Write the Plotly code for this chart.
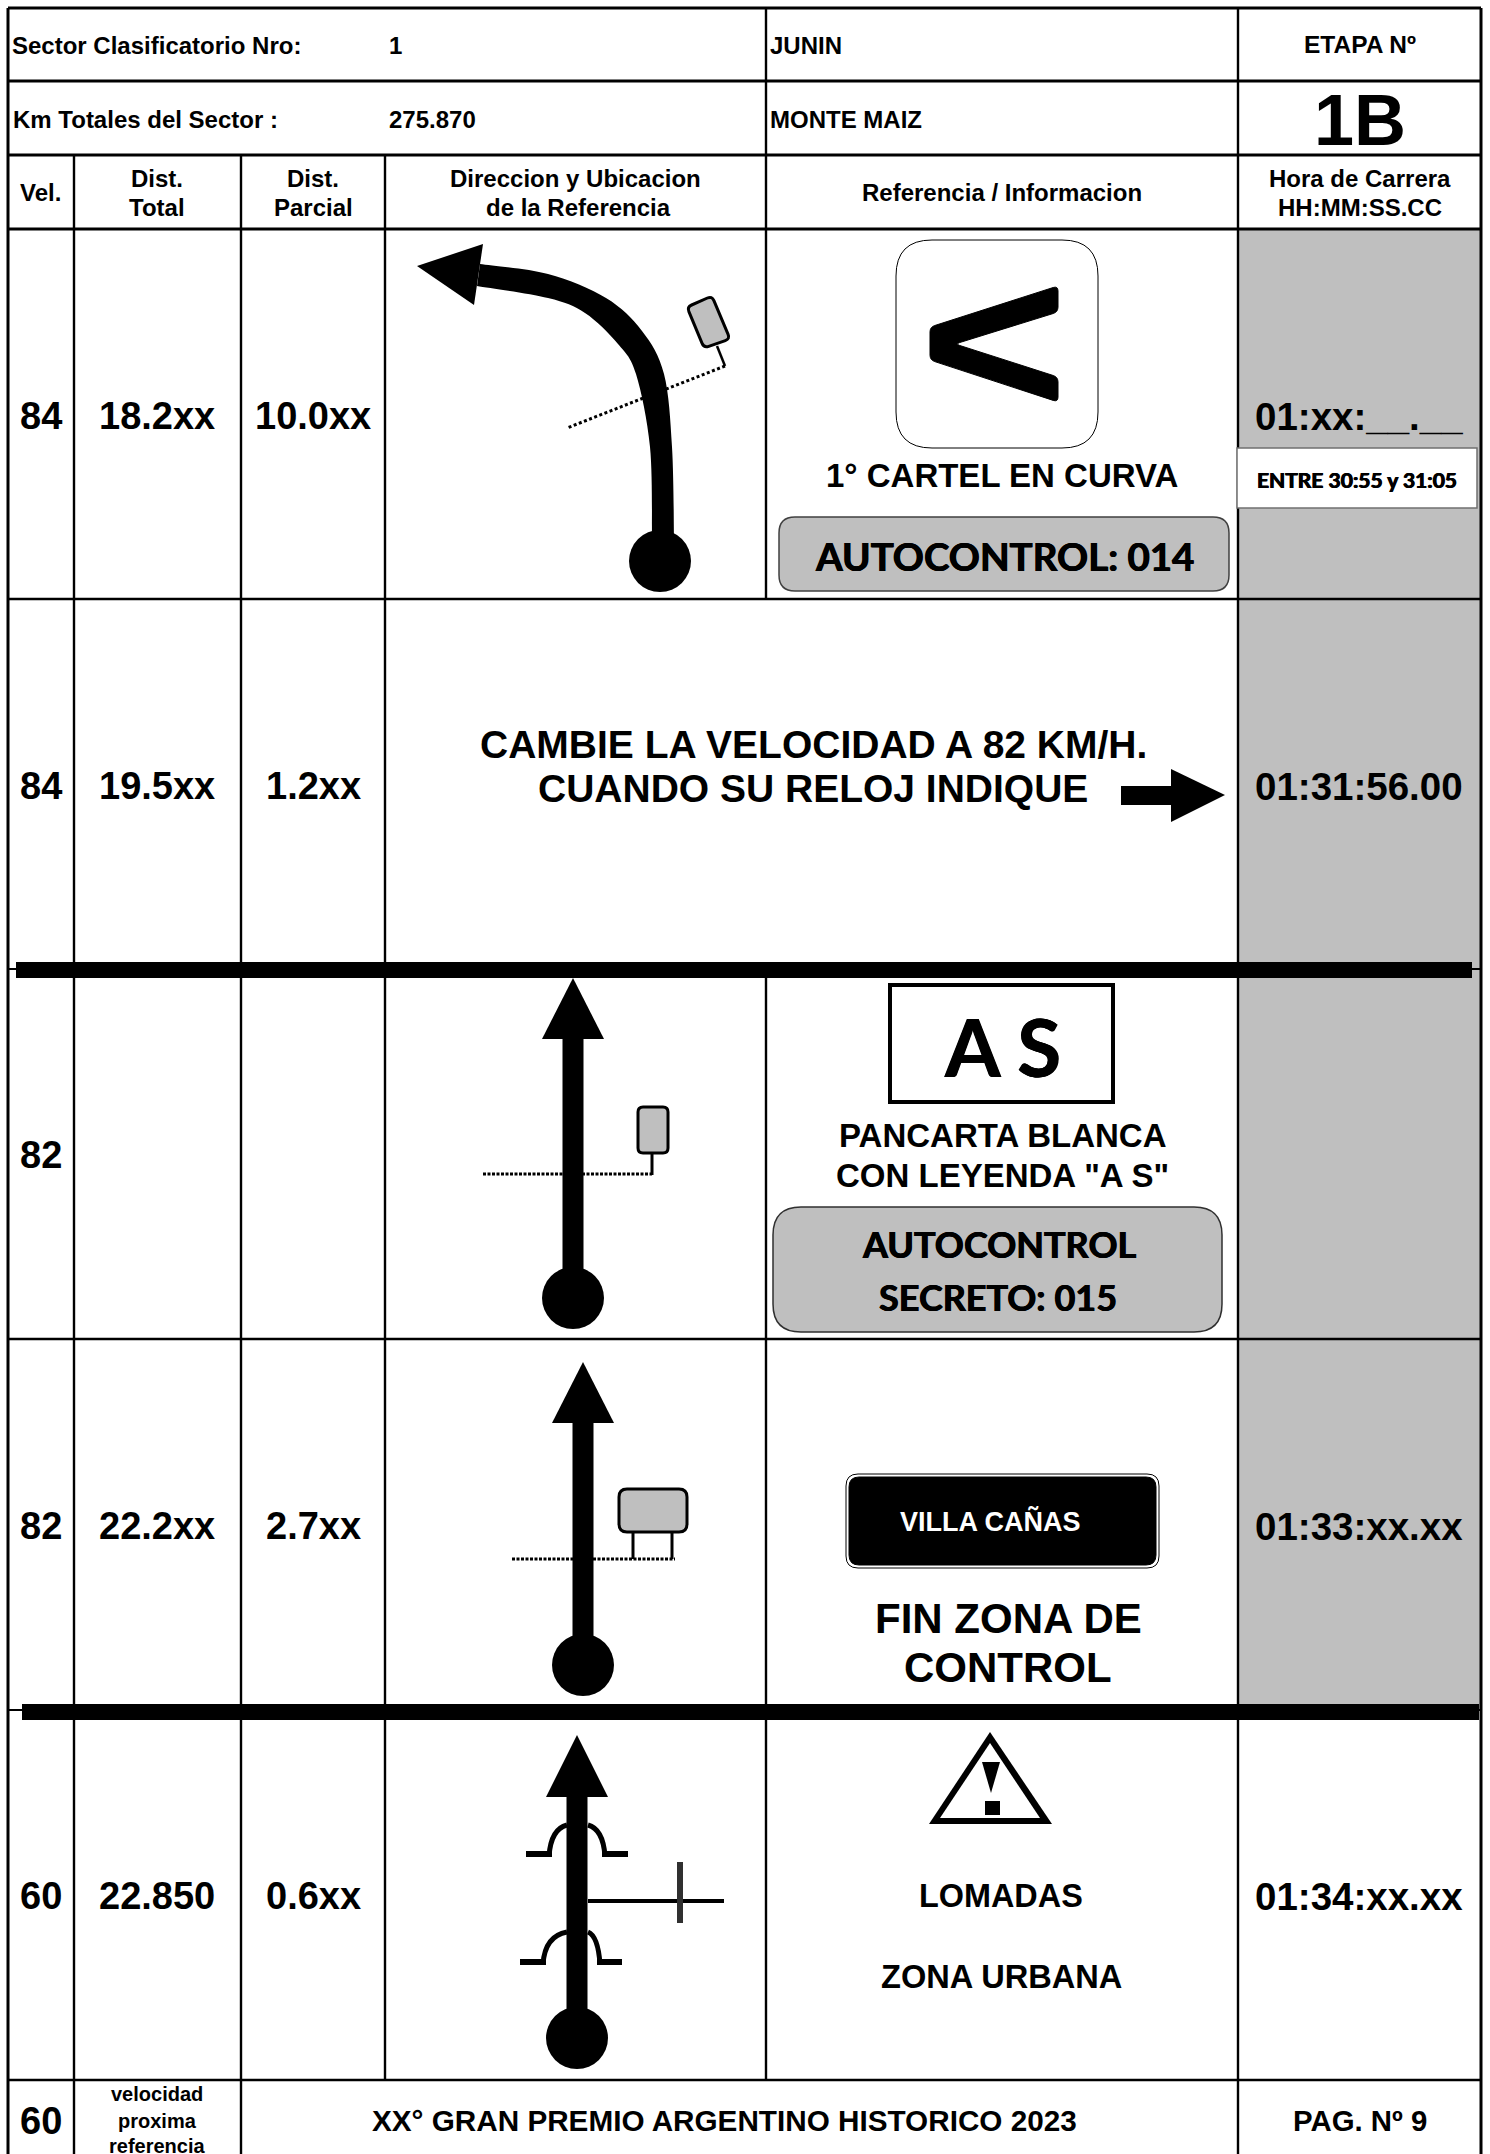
import plotly.graph_objects as go

# ---------- chart content ----------
SPEEDS = ["84", "84", "82", "82", "60"]
DIST_TOTAL = ["18.2xx", "19.5xx", "", "22.2xx", "22.850"]
DIST_PARTIAL = ["10.0xx", "1.2xx", "", "2.7xx", "0.6xx"]
RACE_TIMES = ["01:xx:__.__", "01:31:56.00", "", "01:33:xx.xx", "01:34:xx.xx"]
HEADER_COLUMNS = [["Vel."], ["Dist.", "Total"], ["Dist.", "Parcial"],
                  ["Direccion y Ubicacion", "de la Referencia"],
                  ["Referencia / Informacion"], ["Hora de Carrera", "HH:MM:SS.CC"]]
SECTOR_LABELS = ["Sector Clasificatorio Nro:", "Km Totales del Sector :"]
SECTOR_VALUES = ["1", "275.870"]
TOWNS = ["JUNIN", "MONTE MAIZ"]
STAGE_LABEL = "ETAPA Nº"
STAGE = "1B"
NEXT_SPEED = "60"
NEXT_SPEED_NOTE = ["velocidad", "proxima", "referencia"]
FOOTER_TITLE = "XX° GRAN PREMIO ARGENTINO HISTORICO 2023"
FOOTER_PAGE = "PAG. Nº 9"

# ---------- page geometry ----------
W, H = 1490, 2154
L, R, T = 8, 1481, 8
C1, C2, C3, C4, C5 = 74, 241, 385, 766, 1238
RH = [81, 155, 229, 599, 969, 1339, 1710, 2080]
ROW_Y = [416, 786, 1155, 1526, 1896]
GRAY = "#BFBFBF"
SANS = "Liberation Sans"
CAL = "Lato"
HEAVY = "0.5px 0 0 black, -0.5px 0 0 black"

shapes, notes = [], []


def line(x0, y0, x1, y1, w=2, dash=None, color="black"):
    ln = dict(color=color, width=w)
    if dash:
        ln["dash"] = dash
    shapes.append(dict(type="line", xref="x", yref="y", x0=x0, y0=y0, x1=x1, y1=y1, line=ln))


def rect(x0, y0, x1, y1, fill="black", lc=None, lw=0):
    shapes.append(dict(type="rect", xref="x", yref="y", x0=x0, y0=y0, x1=x1, y1=y1, fillcolor=fill,
                       line=dict(color=lc or fill, width=lw)))


def disc(cx, cy, r=31):
    shapes.append(dict(type="circle", xref="x", yref="y", x0=cx - r, x1=cx + r, y0=cy - r, y1=cy + r,
                       fillcolor="black", line=dict(width=0)))


def poly(pts, fill="black", lc=None, lw=0):
    d = "M " + " L ".join(f"{x} {y}" for x, y in pts) + " Z"
    shapes.append(dict(type="path", xref="x", yref="y", path=d, fillcolor=fill,
                       line=dict(color=lc or fill, width=lw)))


def round_poly(pts, r, fill="black", lc=None, lw=0):
    """Closed polygon whose corners are eased by quadratic segments of reach r."""
    n = len(pts)
    d = ""
    for i in range(n):
        p = pts[i]
        a = pts[i - 1]
        b = pts[(i + 1) % n]
        la = ((a[0] - p[0]) ** 2 + (a[1] - p[1]) ** 2) ** 0.5
        lb = ((b[0] - p[0]) ** 2 + (b[1] - p[1]) ** 2) ** 0.5
        s = (p[0] + (a[0] - p[0]) * r / la, p[1] + (a[1] - p[1]) * r / la)
        e = (p[0] + (b[0] - p[0]) * r / lb, p[1] + (b[1] - p[1]) * r / lb)
        d += ("M " if i == 0 else " L ") + f"{s[0]:.1f} {s[1]:.1f} Q {p[0]} {p[1]} {e[0]:.1f} {e[1]:.1f}"
    shapes.append(dict(type="path", xref="x", yref="y", path=d + " Z", fillcolor=fill,
                       line=dict(color=lc or fill, width=lw)))


def rrect(x0, y0, x1, y1, r, fill="white", lc="black", lw=1):
    round_poly([(x0, y0), (x1, y0), (x1, y1), (x0, y1)], r, fill, lc, lw)


def smooth(pts):
    """Catmull-Rom segments through the hand-read outline points, as SVG path text."""
    out = ""
    for i in range(len(pts) - 1):
        p0 = pts[max(i - 1, 0)]
        p1 = pts[i]
        p2 = pts[i + 1]
        p3 = pts[min(i + 2, len(pts) - 1)]
        c1 = (p1[0] + (p2[0] - p0[0]) / 6, p1[1] + (p2[1] - p0[1]) / 6)
        c2 = (p2[0] - (p3[0] - p1[0]) / 6, p2[1] - (p3[1] - p1[1]) / 6)
        out += f" C {c1[0]:.1f} {c1[1]:.1f} {c2[0]:.1f} {c2[1]:.1f} {p2[0]} {p2[1]}"
    return out


def text(x, y, s, size=24, font=SANS, anchor="center", color="black"):
    f = dict(family=font, size=size, color=color)
    if font == CAL:
        f["shadow"] = HEAVY
    notes.append(dict(x=x, y=y, xref="x", yref="y", text=f"<b>{s}</b>", showarrow=False,
                      xanchor=anchor, yanchor="middle", align=anchor, font=f))


def straight_arrow(cx, tip, base, stem_half, circle_y):
    rect(cx - stem_half, base - 1, cx + stem_half, circle_y - 10)
    poly([(cx, tip), (cx - 31, base), (cx + 31, base)])
    disc(cx, circle_y)


# ---------- gray time column ----------
rect(C5, RH[2], R, RH[6], GRAY)

# ---------- grid ----------
for y in RH[:3]:
    line(L, y, R, y, 3)
line(L, RH[3], R, RH[3], 2.4)
line(L, RH[5], R, RH[5], 2.4)
line(L, RH[7], R, RH[7], 2.6)
for x in (C1, C2):
    line(x, RH[1], x, H, 2.4)
line(C3, RH[1], C3, RH[7], 2.4)
line(C4, T, C4, RH[3], 2.4)
line(C4, RH[4], C4, RH[7], 2.4)
line(C5, T, C5, H, 2.4)
line(L, T, R, T, 3)
line(L, T, L, H, 3)
line(R, T, R, H, 3)

# thick control-zone rules
line(L, 969, R, 969, 2)
rect(16, 962, 1472, 978)
line(L, 1710, R, 1710, 2)
rect(22, 1704, 1479, 1720)

# ---------- header text ----------
for y, x0, lab, val, town in zip((45, 119), (10, 11), SECTOR_LABELS, SECTOR_VALUES, TOWNS):
    text(x0, y, lab, 24, anchor="left")
    text(387, y, val, 24, anchor="left")
    text(768, y, town, 24, anchor="left")
text(1360, 44, STAGE_LABEL, 24.5)
text(1360, 120, STAGE, 72)
header_x = [(40,), (157, 157), (313, 313), (575, 578), (1002,), (1360, 1360)]
for xs, lines in zip(header_x, HEADER_COLUMNS):
    ys = [192] if len(lines) == 1 else [178, 207]
    for cx, y, s in zip(xs, ys, lines):
        text(cx, y, s, 24)

# ---------- row values ----------
for y, sp, dt, dp, tm in zip(ROW_Y, SPEEDS, DIST_TOTAL, DIST_PARTIAL, RACE_TIMES):
    text(41, y, sp, 38)
    if dt:
        text(157, y, dt, 38)
        text(313, y, dp, 38)
    if tm:
        text(1359, y, tm, 38.5)

# ---------- row 1 ----------
outer = [(480, 264), (548, 274), (606, 298), (642, 331), (664, 374), (672, 447), (674, 537)]
inner = [(652, 537), (650, 447), (636, 374), (618, 344), (585, 313), (548, 298), (477, 286)]
d = f"M {outer[0][0]} {outer[0][1]}" + smooth(outer) + f" L {inner[0][0]} {inner[0][1]}" + smooth(inner) + " Z"
shapes.append(dict(type="path", xref="x", yref="y", path=d, fillcolor="black", line=dict(width=0)))
poly([(417, 266), (483, 244), (474, 305)])
disc(660, 561)
line(725, 366, 567, 428, 3, "3px,2.5px")
line(717, 346, 725, 366, 2.5)
round_poly([(687, 307), (712, 296), (730, 339), (704, 348)], 5, GRAY, "black", 3)
rrect(896, 240, 1098, 448, 36)
round_poly([(1058, 286), (1058, 312), (955, 344), (1058, 377), (1058, 402), (930, 360), (930, 327)],
           5, "black", "black", 1)
text(1002, 475, "1° CARTEL EN CURVA", 33)
rrect(779, 517, 1229, 591, 16, GRAY, "#404040", 1.5)
text(1004, 556, "AUTOCONTROL: 014", 38.5, CAL)
rect(1237, 448, 1477, 508, "white", "#707070", 1.5)
text(1357, 479, "ENTRE 30:55 y 31:05", 21, CAL)

# ---------- row 2 ----------
text(813, 744, "CAMBIE LA VELOCIDAD A 82 KM/H.", 39)
text(813, 788, "CUANDO SU RELOJ INDIQUE", 39)
rect(1121, 786, 1172, 805)
poly([(1171, 769), (1171, 822), (1225, 795)])

# ---------- row 3 ----------
straight_arrow(573, 978, 1039, 10.5, 1298)
line(483, 1174, 652, 1174, 3, "3px,1.5px")
line(652, 1153, 652, 1175, 3)
rrect(638, 1107, 668, 1153, 5, GRAY, "black", 3)
rect(890, 985, 1113, 1102, "white", "black", 4)
text(1002, 1046, "A S", 80, CAL)
text(1003, 1135, "PANCARTA BLANCA", 33)
text(1002, 1175, 'CON LEYENDA "A S"', 33)
rrect(773, 1207, 1222, 1332, 28, GRAY, "#303030", 1.5)
text(999, 1244, "AUTOCONTROL", 36, CAL)
text(998, 1297, "SECRETO: 015", 36, CAL)

# ---------- row 4 ----------
straight_arrow(583, 1362, 1423, 10.5, 1665)
line(512, 1559, 675, 1559, 3, "3px,1.5px")
line(633, 1532, 633, 1559, 3)
line(672, 1532, 672, 1559, 3)
rrect(619, 1489, 687, 1532, 8, GRAY, "black", 3)
rrect(846, 1474, 1159, 1568, 12, "white", "black", 1)
rrect(849, 1477, 1156, 1565, 10, "black", "black", 1)
text(990, 1521, "VILLA CAÑAS", 27, color="white")
text(1008, 1618, "FIN ZONA DE", 42)
text(1008, 1667, "CONTROL", 42)

# ---------- row 5 ----------
straight_arrow(577, 1735, 1797, 10.5, 2038)


def bump(x_l, x_r, flat_y, top_y, foot_l, foot_r):
    line(foot_l, flat_y, x_l + 3, flat_y, 6)
    line(x_r - 3, flat_y, foot_r, flat_y, 6)
    for a, b in ((x_l, 567), (x_r, 588)):
        sx = 1 if a < b else -1
        shapes.append(dict(type="path", xref="x", yref="y",
                           path=f"M {a} {flat_y+2} Q {a+2*sx} {top_y+4} {b} {top_y}",
                           line=dict(color="black", width=5)))


bump(549, 605, 1854, 1825, 526, 628)
bump(543, 600, 1962, 1932, 520, 622)
line(588, 1901, 724, 1901, 4)
line(680, 1862, 680, 1923, 6, color="#303030")
poly([(990, 1732), (929, 1824), (1052, 1824)])
poly([(990, 1743), (940, 1818), (1040, 1818)], "white")
poly([(982, 1762), (1000, 1762), (991, 1793)])
rect(985, 1801, 1000, 1815)
text(1001, 1896, "LOMADAS", 32.4)
text(1001, 1976, "ZONA URBANA", 32.6)

# ---------- footer ----------
text(41, 2121, NEXT_SPEED, 38)
for y, s in zip((2094, 2121, 2146), NEXT_SPEED_NOTE):
    text(157, y, s, 20)
text(724, 2120, FOOTER_TITLE, 29.7)
text(1360, 2120, FOOTER_PAGE, 29.4)

fig = go.Figure()
fig.update_layout(
    width=W, height=H, margin=dict(l=0, r=0, t=0, b=0, pad=0),
    paper_bgcolor="white", plot_bgcolor="white", showlegend=False,
    xaxis=dict(range=[0, W], visible=False, fixedrange=True),
    yaxis=dict(range=[H, 0], visible=False, fixedrange=True),
    shapes=shapes, annotations=notes,
)
fig.write_html("out.html", config=dict(displayModeBar=False),
               post_script="document.body.style.margin='0';document.documentElement.style.overflow='hidden';")
